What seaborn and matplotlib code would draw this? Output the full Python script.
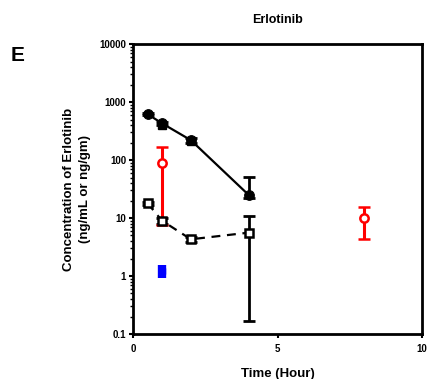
import numpy as np
import pandas as pd
import matplotlib
matplotlib.use("Agg")
import matplotlib.pyplot as plt
import seaborn as sns
from matplotlib.ticker import LogLocator, NullFormatter, FixedLocator

# plasma, solid circles
t_plasma = [0.5, 1, 2, 4]
c_plasma = [620, 430, 220, 25]
e_plasma_lo = [20, 30, 20, 3]
e_plasma_hi = [20, 30, 20, 27]

# filled squares hiding behind the circles
t_sq = [1, 2]
c_sq = [410, 210]
e_sq = [30, 20]

# open squares, dashed
t_open = [0.5, 1, 2, 4]
c_open = [18, 9, 4.3, 5.6]
e_open_lo = [1, 1, 0.5, 5.43]
e_open_hi = [1, 1, 0.5, 5.4]

# red open circles
t_red = [1, 8]
c_red = [90, 10]
e_red_lo = [82.5, 5.7]
e_red_hi = [80, 5.3]

# blue filled square
t_blue = [1]
c_blue = [1.2]
e_blue_lo = [0.28]
e_blue_hi = [0.35]

sns.set_style("ticks")
plt.rcParams['font.family'] = ['Liberation Sans', 'DejaVu Sans']
plt.rcParams['font.weight'] = 'bold'
plt.rcParams['text.color'] = 'black'
plt.rcParams['axes.labelcolor'] = 'black'
plt.rcParams['xtick.color'] = 'black'
plt.rcParams['ytick.color'] = 'black'

fig = plt.figure(figsize=(4.28, 3.79), dpi=100)
ax = fig.add_axes([0.311, 0.1187, 0.675, 0.765])

df_plasma = pd.DataFrame({"t": t_plasma, "c": c_plasma})
df_open = pd.DataFrame({"t": t_open, "c": c_open})

ax.errorbar(t_plasma, c_plasma, yerr=[e_plasma_lo, e_plasma_hi], fmt='none',
            ecolor='black', elinewidth=2, capsize=4, capthick=2, zorder=2)
sns.lineplot(data=df_plasma, x="t", y="c", ax=ax, color='black', lw=1.6,
             marker='o', markersize=7, markeredgecolor='black', zorder=3)
ax.errorbar(t_sq, c_sq, yerr=e_sq, fmt='s', color='black', ms=6,
            elinewidth=2, capsize=3, zorder=3)

ax.errorbar(t_open, c_open, yerr=[e_open_lo, e_open_hi], fmt='none',
            ecolor='black', elinewidth=2, capsize=4, capthick=2, zorder=2)
sns.lineplot(data=df_open, x="t", y="c", ax=ax, color='black', lw=1.6,
             linestyle=(0, (4, 3)), marker='s', markersize=6,
             markerfacecolor='white', markeredgecolor='black',
             markeredgewidth=1.8, zorder=4)

ax.errorbar(t_red, c_red, yerr=[e_red_lo, e_red_hi], fmt='o', color='red',
            ms=6, mfc='white', mec='red', mew=1.8, elinewidth=2.2,
            capsize=4, capthick=2, zorder=3)
ax.errorbar(t_blue, c_blue, yerr=[e_blue_lo, e_blue_hi], fmt='s',
            color='blue', ms=4, elinewidth=6, capsize=0, zorder=3)

ax.set_yscale('log')
ax.set_ylim(0.1, 10000)
ax.set_xlim(0, 10)
ax.yaxis.set_major_locator(FixedLocator([0.1, 1, 10, 100, 1000, 10000]))
ax.set_yticklabels(['0.1', '1', '10', '100', '1000', '10000'])
ax.yaxis.set_minor_locator(LogLocator(base=10, subs=np.arange(2, 10)))
ax.yaxis.set_minor_formatter(NullFormatter())
ax.set_xticks([0, 5, 10])
ax.tick_params(axis='both', which='major', labelsize=7, width=1.5, length=3,
               direction='out')
ax.tick_params(axis='x', which='major', pad=4)
ax.tick_params(axis='y', which='major', pad=2)
ax.tick_params(axis='y', which='minor', width=1, length=2)
for lab in ax.get_xticklabels() + ax.get_yticklabels():
    lab.set_fontweight('bold')

for side in ['left', 'bottom', 'top', 'right']:
    ax.spines[side].set_visible(True)
    ax.spines[side].set_color('black')
    ax.spines[side].set_linewidth(2)

ax.set_xlabel("Time (Hour)", fontsize=9.5, fontweight='bold', labelpad=10)
ax.set_ylabel("Concentration of Erlotinib\n(ng/mL or ng/gm)", fontsize=9.5,
              fontweight='bold', labelpad=6, linespacing=1.4)
ax.set_title("Erlotinib", fontsize=9, fontweight='bold', pad=15)
fig.text(0.025, 0.84, "E", fontsize=15, fontweight='bold')

fig.savefig("out.png", dpi=100)
